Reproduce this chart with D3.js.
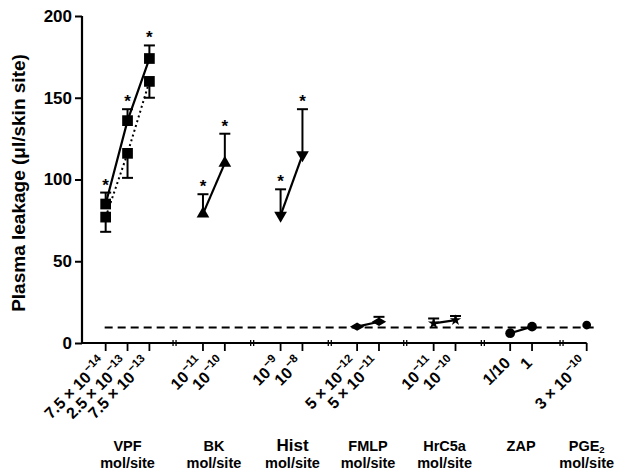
<!DOCTYPE html>
<html><head><meta charset="utf-8">
<script src="https://cdn.jsdelivr.net/npm/d3@7"></script>
<style>
body{margin:0;background:#fff;}
svg{display:block;font-family:"Liberation Sans",Arial,Helvetica,sans-serif;}
</style></head>
<body><svg id="c" width="620" height="475"></svg>
<script>
// ---- data ----
const groups = ["VPF","BK","Hist","FMLP","HrC5a","ZAP","PGE2"];
const groupUnits = ["mol/site","mol/site","mol/site","mol/site","mol/site","","mol/site"];
// dose slots along the broken x axis (ordinal position of each dose)
const doseSlots = [1,2,3, 5.45,6.45, 9,10, 12.5,13.5, 16,17, 19.5,20.5, 23];
const breakSlots = [4.15,7.7,11.25,14.7,18.25,21.85];
const doseLabels = [
  ["7.5 × 10","−14"],["2.5 × 10","−13"],["7.5 × 10","−13"],
  ["10","−11"],["10","−10"],
  ["10","−9"],["10","−8"],
  ["5 × 10","−12"],["5 × 10","−11"],
  ["10","−11"],["10","−10"],
  ["1/10",""],["1",""],
  ["3 × 10","−10"]
];
const groupSlotIdx = [[0,1,2],[3,4],[5,6],[7,8],[9,10],[11,12],[13]];

const vpfSolid = [85,136,174];
const vpfSolidErr = [92,143,182];
const vpfDotted = [77,116,160];
const vpfDottedErr = [68,101,150];
const bkVals = [79,110];
const bkErr = [91,128];
const histVals = [78,115];
const histErr = [94,143];
const fmlpVals = [10,13];
const fmlpErr = [null,16];
const hrc5aVals = [12,14];
const hrc5aErr = [15,16.5];
const zapVals = [6,10];
const pge2Vals = [11];
const baselineVal = 9.5;
const yTicks = [0,50,100,150,200];

// ---- scales ----
const svg = d3.select("#c");
const x = d3.scaleLinear().domain([0,23]).range([83.8,586.7]);
const y = d3.scaleLinear().domain([0,200]).range([343,16]);

// y axis
const yAxis = d3.axisLeft(y).tickValues(yTicks).tickSize(7).tickPadding(3);
const gy = svg.append("g").attr("transform","translate(82,0)").call(yAxis);
gy.select(".domain").attr("stroke","#000").attr("stroke-width",2.2).attr("d","M0,"+y(200)+"V"+y(0));
gy.selectAll(".tick line").attr("stroke-width",2);
gy.selectAll(".tick text").attr("font-size",17).attr("font-weight","bold").attr("fill","#000");

svg.append("text").attr("transform","translate(25,183) rotate(-90)")
  .attr("text-anchor","middle").attr("font-size",19).attr("font-weight","bold")
  .text("Plasma leakage (μl/skin site)");

// x axis line
svg.append("line").attr("x1",81).attr("x2",x(23)).attr("y1",y(0)).attr("y2",y(0))
  .attr("stroke","#000").attr("stroke-width",2.2);
// ticks
svg.selectAll(".xt").data(doseSlots).join("line")
  .attr("x1",d=>x(d)).attr("x2",d=>x(d)).attr("y1",y(0)).attr("y2",y(0)+8)
  .attr("stroke","#000").attr("stroke-width",1.8);
// breaks
breakSlots.forEach(b=>{
  [-1.5,1.5].forEach(o=>{
    svg.append("line").attr("x1",x(b)+o).attr("x2",x(b)+o).attr("y1",y(0)-3).attr("y2",y(0)+3)
      .attr("stroke","#000").attr("stroke-width",1.3);
  });
});
// tick labels
doseSlots.forEach((s,i)=>{
  const t = svg.append("text").attr("transform",`translate(${x(s)+1},364) rotate(-45)`)
    .attr("text-anchor","end").attr("font-size",16).attr("font-weight","bold");
  t.append("tspan").text(doseLabels[i][0]);
  if(doseLabels[i][1]) t.append("tspan").attr("dy",-7).attr("dx",1).attr("font-size",11.5).text(doseLabels[i][1]);
});
// group labels
groups.forEach((g,i)=>{
  const idx = groupSlotIdx[i];
  let cx = d3.mean(idx,j=>x(doseSlots[j]));
  if(g==="Hist") cx += 1;
  const t = svg.append("text").attr("x",cx).attr("y",451).attr("text-anchor","middle")
    .attr("font-weight","bold").attr("font-size",g==="Hist"?17:14.5);
  if(g==="PGE2"){ t.append("tspan").text("PGE"); t.append("tspan").attr("dy",2).attr("font-size",9.5).text("2"); }
  else t.text(g);
  if(groupUnits[i]) svg.append("text").attr("x",cx).attr("y",468).attr("text-anchor","middle")
    .attr("font-weight","bold").attr("font-size",14.5).text(groupUnits[i]);
});

// dashed baseline
svg.append("line").attr("x1",x(1)-1).attr("x2",x(23)+10).attr("y1",y(baselineVal)).attr("y2",y(baselineVal))
  .attr("stroke","#000").attr("stroke-width",2).attr("stroke-dasharray","8,5");

const line = d3.line().x(d=>x(d[0])).y(d=>y(d[1]));
function series(slots, vals, errs, sym, size, dash, rot, stars){
  const pts = slots.map((s,i)=>[s,vals[i]]);
  // error bars
  if(errs) pts.forEach((p,i)=>{
    if(errs[i]==null) return;
    svg.append("line").attr("x1",x(p[0])).attr("x2",x(p[0])).attr("y1",y(p[1])).attr("y2",y(errs[i]))
      .attr("stroke","#000").attr("stroke-width",2);
    svg.append("line").attr("x1",x(p[0])-5.5).attr("x2",x(p[0])+5.5).attr("y1",y(errs[i])).attr("y2",y(errs[i]))
      .attr("stroke","#000").attr("stroke-width",2);
    if(stars) svg.append("text").attr("x",x(p[0])).attr("y",y(errs[i])-2).attr("text-anchor","middle")
      .attr("font-size",17).attr("font-weight","bold").text("*");
  });
  if(pts.length>1) svg.append("path").attr("d",line(pts)).attr("fill","none").attr("stroke","#000")
    .attr("stroke-width",dash?2:2.2).attr("stroke-dasharray",dash||null);
  svg.selectAll(null).data(pts).join("path")
    .attr("transform",d=>`translate(${x(d[0])},${y(d[1])}) rotate(${rot||0})`)
    .attr("d",d3.symbol().type(sym).size(size)).attr("fill","#000");
}
const S = doseSlots;
series([S[0],S[1],S[2]], vpfDotted, vpfDottedErr, d3.symbolSquare, 115, "2,3", 0, false);
series([S[0],S[1],S[2]], vpfSolid, vpfSolidErr, d3.symbolSquare, 115, null, 0, true);
series([S[3],S[4]], bkVals, bkErr, d3.symbolTriangle, 70, null, 0, true);
series([S[5],S[6]], histVals, histErr, d3.symbolTriangle, 70, null, 180, true);
series([S[7],S[8]], fmlpVals, fmlpErr, d3.symbolDiamond, 60, null, 90, false);
series([S[9],S[10]], hrc5aVals, hrc5aErr, d3.symbolStar, 40, null, 0, false);
series([S[11],S[12]], zapVals, null, d3.symbolCircle, 75, null, 0, false);
series([S[13]], pge2Vals, null, d3.symbolCircle, 60, null, 0, false);
</script></body></html>
